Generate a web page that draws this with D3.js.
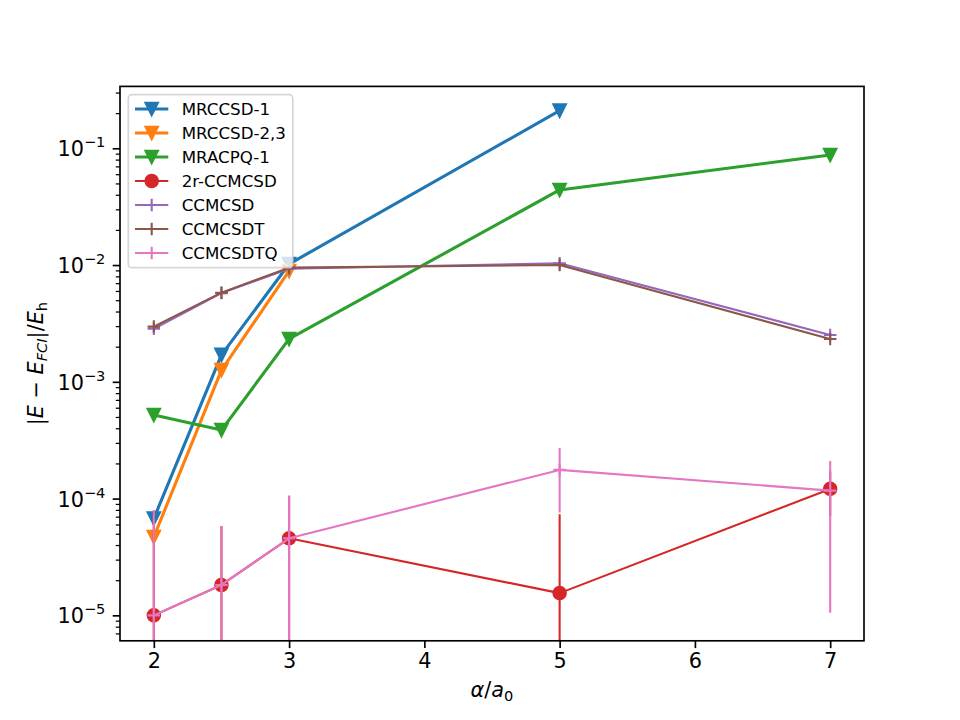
<!DOCTYPE html>
<html>
<head>
<meta charset="utf-8">
<script src="https://cdn.jsdelivr.net/npm/d3@7"></script>
<style>
  html, body { margin: 0; padding: 0; background: #fff; }
  svg { display: block; font-family: "DejaVu Sans", sans-serif; }
</style>
</head>
<body>
<svg id="chart" width="960" height="720"></svg>
<script>
// ---------------- data ----------------
const xValues = [2, 2.5, 3, 5, 7];
const seriesNames = ["MRCCSD-1", "MRCCSD-2,3", "MRACPQ-1", "2r-CCMCSD", "CCMCSD", "CCMCSDT", "CCMCSDTQ"];
const mrccsd1 = [6.75e-5, 1.70e-3, 1.02e-2, 0.21];
const mrccsd23 = [4.69e-5, 1.26e-3, 8.9e-3];
const mracpq1 = [5.2e-4, 3.86e-4, 2.33e-3, 4.4e-2, 8.77e-2];
const ccmcsd2r = [1.0e-5, 1.82e-5, 4.57e-5, 1.55e-5, 1.21e-4];
const ccmcsd2rErr = [6.9e-5, 4.0e-5, 6.0e-5, 5.8e-5, 5.0e-5];
const ccmcsd = [2.85e-3, 5.75e-3, 9.3e-3, 1.035e-2, 2.52e-3];
const ccmcsdt = [2.97e-3, 5.8e-3, 9.5e-3, 1.0e-2, 2.33e-3];
const ccmcsdtq = [1.0e-5, 1.82e-5, 4.57e-5, 1.76e-4, 1.17e-4];
const ccmcsdtqErrLow = [6.9e-5, 4.0e-5, 6.0e-5, 1.0e-4, 1.065e-4];
const ccmcsdtqErrHigh = [6.9e-5, 4.0e-5, 6.0e-5, 0.95e-4, 0.93e-4];
const xTicks = [2, 3, 4, 5, 6, 7];
const yTickExponents = [-5, -4, -3, -2, -1];

const colors = ["#1f77b4", "#ff7f0e", "#2ca02c", "#d62728", "#9467bd", "#8c564b", "#e377c2"];

const series = [
  { name: seriesNames[0], y: mrccsd1, marker: "v", color: colors[0], lw: 3.1 },
  { name: seriesNames[1], y: mrccsd23, marker: "v", color: colors[1], lw: 3.1 },
  { name: seriesNames[2], y: mracpq1, marker: "v", color: colors[2], lw: 3.1 },
  { name: seriesNames[3], y: ccmcsd2r, marker: "o", color: colors[3], lw: 2.1, errLow: ccmcsd2rErr, errHigh: ccmcsd2rErr },
  { name: seriesNames[4], y: ccmcsd, marker: "+", color: colors[4], lw: 2.1 },
  { name: seriesNames[5], y: ccmcsdt, marker: "+", color: colors[5], lw: 2.1 },
  { name: seriesNames[6], y: ccmcsdtq, marker: "+", color: colors[6], lw: 2.1, errLow: ccmcsdtqErrLow, errHigh: ccmcsdtqErrHigh }
];

// ---------------- layout ----------------
const L = 120, R = 864, T = 86.4, B = 640.8;
const svg = d3.select("#chart");
const x = d3.scaleLinear().domain([1.75, 7.25]).range([L, R]);
const y = d3.scaleLog().domain([Math.pow(10, -5.218), Math.pow(10, -0.470)]).range([B, T]);

svg.append("defs").append("clipPath").attr("id", "plotclip")
  .append("rect").attr("x", L).attr("y", T).attr("width", R - L).attr("height", B - T);

const ms = 12.5, h = ms / 2;
function markerPath(m) {
  if (m === "v") return `M0,${h}L${-h},${-h}L${h},${-h}Z`;
  if (m === "+") return `M${-h},0H${h}M0,${-h}V${h}`;
  return d3.symbol().type(d3.symbolCircle).size(Math.PI * h * h)();
}
function drawMarker(g, m, color, cx, cy) {
  const p = g.append("path").attr("d", markerPath(m)).attr("transform", `translate(${cx},${cy})`)
    .attr("stroke", color).attr("stroke-width", 2.08).attr("stroke-linejoin", "miter");
  p.attr("fill", m === "+" ? "none" : color);
}

const plot = svg.append("g").attr("clip-path", "url(#plotclip)");

series.forEach(s => {
  const g = plot.append("g");
  const pts = s.y.map((v, i) => [x(xValues[i]), y(v)]);
  if (s.errLow) {
    s.y.forEach((v, i) => {
      const lo = v - s.errLow[i];
      const hi = v + s.errHigh[i];
      const yLo = lo > 0 ? y(lo) : B + 10;
      g.append("line").attr("x1", x(xValues[i])).attr("x2", x(xValues[i]))
        .attr("y1", y(hi)).attr("y2", yLo)
        .attr("stroke", s.color).attr("stroke-width", s.lw);
    });
  }
  g.append("path").datum(pts).attr("d", d3.line()).attr("fill", "none")
    .attr("stroke", s.color).attr("stroke-width", s.lw).attr("stroke-linejoin", "round");
  pts.forEach(p => drawMarker(g, s.marker, s.color, p[0], p[1]));
});

// ---------------- axes ----------------
const tickW = 1.67;
const xAxis = svg.append("g").attr("transform", `translate(0,${B})`)
  .call(d3.axisBottom(x).tickValues(xTicks).tickFormat(d3.format("d")).tickSize(7.3).tickPadding(5));
xAxis.select(".domain").remove();
xAxis.selectAll("line").attr("stroke", "#000").attr("stroke-width", tickW);
xAxis.selectAll("text").attr("font-size", 20.8).attr("fill", "#000").attr("font-family", "DejaVu Sans");

const majorVals = yTickExponents.map(e => Math.pow(10, e));
const minorVals = [];
for (let e = -6; e <= 0; e++) for (let k = 2; k <= 9; k++) {
  const v = k * Math.pow(10, e);
  if (v >= y.domain()[0] && v <= y.domain()[1]) minorVals.push(v);
}
const yMinor = svg.append("g").attr("transform", `translate(${L},0)`)
  .call(d3.axisLeft(y).tickValues(minorVals).tickFormat("").tickSize(4.2));
yMinor.select(".domain").remove();
yMinor.selectAll("line").attr("stroke", "#000").attr("stroke-width", 1.25);

const yAxis = svg.append("g").attr("transform", `translate(${L},0)`)
  .call(d3.axisLeft(y).tickValues(majorVals).tickSize(7.3).tickPadding(7.3).tickFormat(""));
yAxis.select(".domain").remove();
yAxis.selectAll("line").attr("stroke", "#000").attr("stroke-width", tickW);
yAxis.selectAll(".tick").each(function(d) {
  const e = Math.round(Math.log10(d));
  const t = d3.select(this).select("text");
  t.attr("x", -14.6).attr("dy", null).attr("y", 7.5).attr("font-size", 20.8).attr("fill", "#000")
    .attr("text-anchor", "end").attr("font-family", "DejaVu Sans").text(null);
  t.append("tspan").text("10");
  t.append("tspan").attr("font-size", 14.6).attr("dy", -9).text("\u2212" + Math.abs(e));
});

// frame
svg.append("rect").attr("x", L).attr("y", T).attr("width", R - L).attr("height", B - T)
  .attr("fill", "none").attr("stroke", "#000").attr("stroke-width", tickW);

// axis labels
const xl = svg.append("text").attr("x", 492).attr("y", 697).attr("text-anchor", "middle")
  .attr("font-size", 20.8).attr("fill", "#000");
xl.append("tspan").attr("font-style", "italic").text("\u03b1");
xl.append("tspan").text("/");
xl.append("tspan").attr("font-style", "italic").text("a");
xl.append("tspan").attr("font-size", 14.6).attr("dy", 4).text("0");

const yl = svg.append("text").attr("transform", `translate(43,${(T + B) / 2}) rotate(-90)`)
  .attr("text-anchor", "middle").attr("font-size", 20.8).attr("fill", "#000");
yl.append("tspan").text("|");
yl.append("tspan").attr("font-style", "italic").text("E");
yl.append("tspan").text(" \u2212 ");
yl.append("tspan").attr("font-style", "italic").text("E");
yl.append("tspan").attr("font-style", "italic").attr("font-size", 14.6).attr("dy", 4).text("FCI");
yl.append("tspan").attr("dy", -4).text("|/");
yl.append("tspan").attr("font-style", "italic").text("E");
yl.append("tspan").attr("font-size", 14.6).attr("dy", 4).text("h");

// ---------------- legend ----------------
const lg = svg.append("g");
lg.append("rect").attr("x", 128.3).attr("y", 94.7).attr("width", 164.5).attr("height", 173)
  .attr("rx", 3.5).attr("fill", "#fff").attr("fill-opacity", 0.8)
  .attr("stroke", "#cccccc").attr("stroke-opacity", 0.8).attr("stroke-width", 1.67);
series.forEach((s, i) => {
  const cy = 109 + i * 24;
  lg.append("line").attr("x1", 135).attr("x2", 168.3).attr("y1", cy).attr("y2", cy)
    .attr("stroke", s.color).attr("stroke-width", s.lw);
  drawMarker(lg, s.marker, s.color, 151.7, cy);
  lg.append("text").attr("x", 181.7).attr("y", cy + 6).attr("font-size", 16.67).attr("fill", "#000").text(s.name);
});
</script>
</body>
</html>
